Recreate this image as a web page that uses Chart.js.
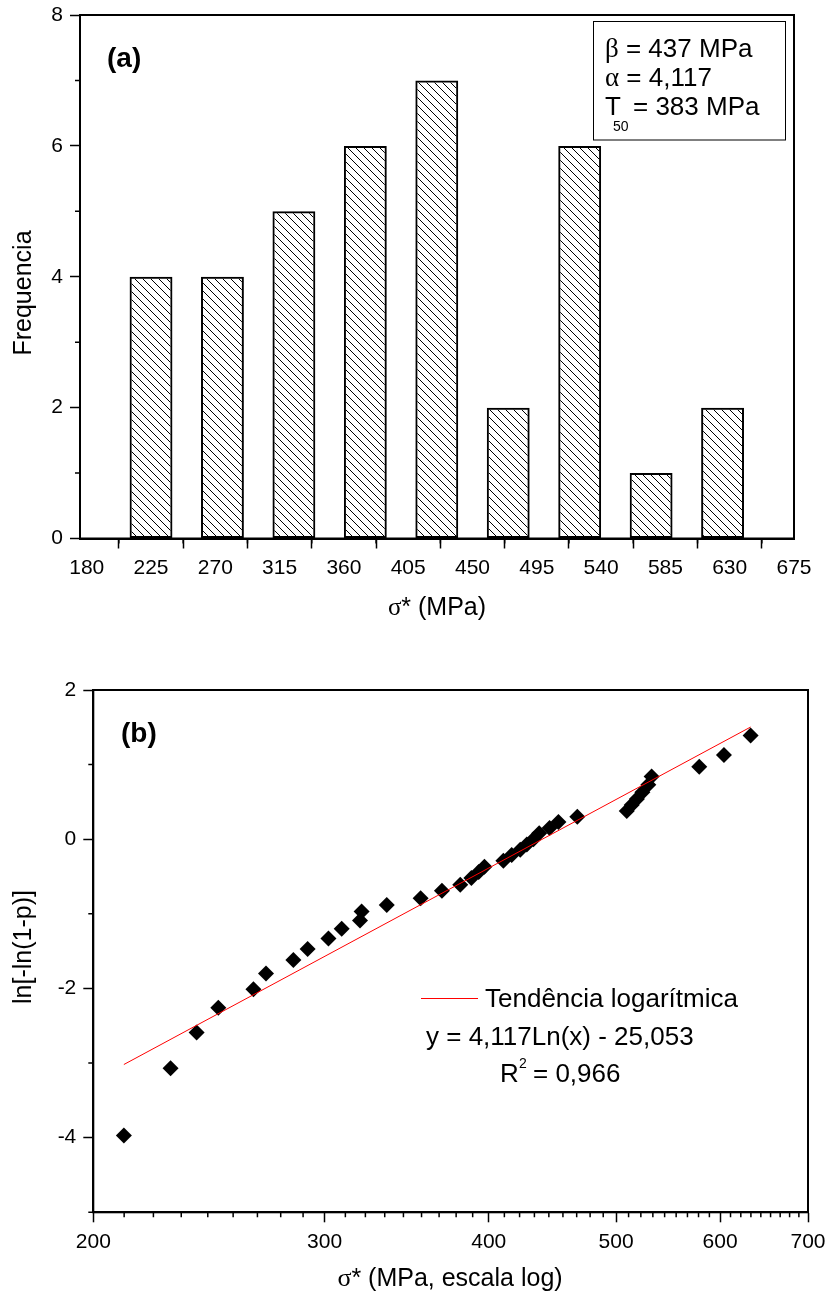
<!DOCTYPE html>
<html>
<head>
<meta charset="utf-8">
<script src="https://cdn.jsdelivr.net/npm/chart.js@4.4.1/dist/chart.umd.min.js"></script>
<style>
  html, body { margin: 0; padding: 0; background: #fff; }
  #wrap { position: relative; width: 828px; height: 1295px; }
  canvas { position: absolute; left: 0; }
  #histChart { top: 0; }
  #weibullChart { top: 640px; }
</style>
</head>
<body>
<div id="wrap">
  <canvas id="histChart" width="828" height="640"></canvas>
  <canvas id="weibullChart" width="828" height="655"></canvas>
</div>
<script>
// (a) histogram of fracture stress
const binCenters = [225, 275, 325, 375, 425, 475, 525, 575, 625];
const binCounts = [4, 4, 5, 6, 7, 2, 6, 1, 2];
const histTicksX = [180, 225, 270, 315, 360, 405, 450, 495, 540, 585, 630, 675];
const histTicksY = [0, 2, 4, 6, 8];

// (b) weibull plot, sigma in MPa vs ln[-ln(1-p)]
const sigma = [211, 229, 239.7, 249, 264.8, 270.7, 284, 291.2, 302, 309.1,
  319.2, 320.1, 334.5, 355, 368.5, 380.5, 388, 393, 397, 410.4,
  416.4, 422.7, 427.6, 432.6, 437, 445, 452, 467.2, 509.5, 513.9,
  518.6, 523.6, 529.1, 532.2, 578.5, 604.1, 633];
const lnLn = [-3.97, -3.07, -2.59, -2.26, -2.01, -1.80, -1.62, -1.47, -1.33, -1.20,
  -1.09, -0.97, -0.88, -0.79, -0.69, -0.61, -0.52, -0.44, -0.37, -0.29,
  -0.21, -0.14, -0.07, 0.00, 0.08, 0.15, 0.23, 0.30, 0.38, 0.46,
  0.54, 0.63, 0.73, 0.84, 0.97, 1.13, 1.39];
const weibullTicksX = [200, 300, 400, 500, 600, 700];
const weibullTicksY = [-4, -2, 0, 2];
const trendSlope = 4.117;
const trendIntercept = -25.053;
const trendRange = [211, 633];

const SANS = '"Liberation Sans", Arial, sans-serif';
const SERIF = '"Liberation Serif", "Times New Roman", serif';

Chart.defaults.font.family = SANS;
Chart.defaults.font.size = 21;
Chart.defaults.color = '#000';
Chart.defaults.animation = false;

// minor ticks halfway between the labelled ones
function midpoints(arr) {
  const out = [];
  for (let i = 0; i < arr.length - 1; i++) out.push((arr[i] + arr[i + 1]) / 2);
  return out;
}
// log axis: 8 minor ticks inside each hundred
function logMinor(arr) {
  const out = [];
  for (let i = 0; i < arr.length - 1; i++) {
    const step = (arr[i + 1] - arr[i]) / 9;
    for (let k = 1; k < 9; k++) out.push(arr[i] + k * step);
  }
  return out;
}

function axisOpts(ticksList, fitSize, horizontal) {
  return {
    grid: { drawOnChartArea: false, drawTicks: true, tickLength: 10, tickWidth: 1.5, tickColor: '#000', color: '#000' },
    border: { display: true, color: '#000', width: 2 },
    ticks: { padding: 7, autoSkip: false, maxRotation: 0, font: { size: 21 }, callback: v => String(v) },
    afterBuildTicks: s => { s.ticks = ticksList.map(v => ({ value: v })); },
    afterFit: s => {
      if (horizontal) s.height = fitSize; else s.width = fitSize;
      // plot area is fixed by layout padding, labels may overhang it
      s.paddingTop = s.paddingBottom = s.paddingLeft = s.paddingRight = 0;
    }
  };
}

// frame around the plot area plus the short minor ticks
function frameMinor(minorX, minorY) {
  return {
    id: 'frameMinor',
    afterDraw(chart) {
      const { ctx, chartArea: a, scales } = chart;
      ctx.save();
      ctx.strokeStyle = '#000';
      ctx.lineWidth = 1.5;
      ctx.beginPath();
      minorX.forEach(v => {
        const px = scales.x.getPixelForValue(v);
        ctx.moveTo(px, a.bottom);
        ctx.lineTo(px, a.bottom + 5);
      });
      minorY.forEach(v => {
        const py = scales.y.getPixelForValue(v);
        ctx.moveTo(a.left, py);
        ctx.lineTo(a.left - 5, py);
      });
      ctx.stroke();
      ctx.lineWidth = 2;
      ctx.strokeRect(a.left, a.top, a.right - a.left, a.bottom - a.top);
      ctx.restore();
    }
  };
}

// draw a line of mixed-font text pieces
function runs(ctx, parts, x, y, align) {
  let total = 0;
  parts.forEach(p => { ctx.font = p.font; p.w = ctx.measureText(p.text).width; total += p.w; });
  let cx = align === 'center' ? x - total / 2 : x;
  parts.forEach(p => {
    ctx.font = p.font;
    ctx.fillText(p.text, cx, y);
    cx += p.w;
  });
}

// hatch tile for the bars
const histCanvas = document.getElementById('histChart');
const tile = document.createElement('canvas');
tile.width = 8; tile.height = 8;
const tg = tile.getContext('2d');
tg.strokeStyle = '#000';
tg.lineWidth = 1;
tg.beginPath();
tg.moveTo(-1, -1); tg.lineTo(9, 9);
tg.moveTo(-1, 7); tg.lineTo(1, 9);
tg.moveTo(7, -1); tg.lineTo(9, 1);
tg.stroke();
const hatch = histCanvas.getContext('2d').createPattern(tile, 'repeat');

const histLabels = {
  id: 'histLabels',
  afterDraw(chart) {
    const ctx = chart.ctx;
    ctx.save();
    ctx.fillStyle = '#000';
    ctx.textBaseline = 'alphabetic';
    ctx.textAlign = 'left';
    ctx.font = 'bold 28px ' + SANS;
    ctx.fillText('(a)', 107, 67);

    ctx.lineWidth = 1;
    ctx.strokeStyle = '#000';
    ctx.strokeRect(593.5, 21.5, 192, 118.5);
    const f = '26px ' + SANS, g = '27px ' + SERIF;
    runs(ctx, [{ text: 'β', font: g }, { text: ' = 437 MPa', font: f }], 605, 57);
    runs(ctx, [{ text: 'α', font: g }, { text: ' = 4,117', font: f }], 605, 86);
    ctx.font = f;
    ctx.fillText('T', 605, 115);
    ctx.font = '14px ' + SANS;
    ctx.fillText('50', 613, 131);
    ctx.font = f;
    ctx.fillText('= 383 MPa', 633, 115);

    runs(ctx, [{ text: 'σ', font: '25px ' + SERIF }, { text: '* (MPa)', font: '25px ' + SANS }], 437, 615, 'center');

    ctx.translate(31, 293);
    ctx.rotate(-Math.PI / 2);
    ctx.textAlign = 'center';
    ctx.font = '25px ' + SANS;
    ctx.fillText('Frequencia', 0, 0);
    ctx.restore();
  }
};

new Chart(histCanvas, {
  type: 'bar',
  data: {
    datasets: [{
      data: binCenters.map((c, i) => ({ x: c, y: binCounts[i] })),
      backgroundColor: hatch,
      borderColor: '#000',
      borderWidth: 2,
      borderSkipped: false,
      categoryPercentage: 1,
      barPercentage: 30 / 45
    }]
  },
  options: {
    responsive: false,
    events: [],
    layout: { padding: { top: 15, right: 34, left: 0, bottom: 0 } },
    plugins: { legend: { display: false }, tooltip: { enabled: false } },
    scales: {
      x: Object.assign(axisOpts(histTicksX, 101.5, true), { type: 'linear', min: 175.3, max: 675, offset: false }),
      y: Object.assign(axisOpts(histTicksY, 80, false), { type: 'linear', min: 0, max: 8 })
    }
  },
  plugins: [frameMinor(midpoints(histTicksX), midpoints(histTicksY)), histLabels]
});

const weibullLabels = {
  id: 'weibullLabels',
  afterDraw(chart) {
    const ctx = chart.ctx;
    ctx.save();
    ctx.fillStyle = '#000';
    ctx.textBaseline = 'alphabetic';
    ctx.textAlign = 'left';
    ctx.font = 'bold 28px ' + SANS;
    ctx.fillText('(b)', 121, 102);

    ctx.strokeStyle = chart.data.datasets[0].borderColor;
    ctx.lineWidth = 1;
    ctx.beginPath();
    ctx.moveTo(421, 358.5);
    ctx.lineTo(478, 358.5);
    ctx.stroke();
    const f = '26px ' + SANS;
    ctx.font = f;
    ctx.fillText('Tendência logarítmica', 485, 366.5);
    ctx.fillText('y = 4,117Ln(x) - 25,053', 426, 405);
    ctx.fillText('R', 500, 441.5);
    ctx.font = '14px ' + SANS;
    ctx.fillText('2', 519, 428);
    ctx.font = f;
    ctx.fillText('= 0,966', 533, 441.5);

    const t = '25px ' + SANS;
    runs(ctx, [{ text: 'σ', font: '26px ' + SERIF }, { text: '* (MPa, escala log)', font: t }], 450, 646, 'center');

    ctx.translate(31, 307);
    ctx.rotate(-Math.PI / 2);
    ctx.textAlign = 'center';
    ctx.font = t;
    ctx.fillText('ln[-ln(1-p)]', 0, 0);
    ctx.restore();
  }
};

new Chart(document.getElementById('weibullChart'), {
  type: 'scatter',
  data: {
    datasets: [{
      data: trendRange.map(x => ({ x: x, y: trendSlope * Math.log(x) + trendIntercept })),
      showLine: true,
      borderColor: '#ff0000',
      borderWidth: 1,
      pointRadius: 0,
      order: 0
    }, {
      data: sigma.map((s, i) => ({ x: s, y: lnLn[i] })),
      pointStyle: 'rectRot',
      pointRadius: 8,
      backgroundColor: '#000',
      borderWidth: 0,
      order: 1
    }]
  },
  options: {
    responsive: false,
    events: [],
    layout: { padding: { top: 50, right: 20, left: 0, bottom: 0 } },
    plugins: { legend: { display: false }, tooltip: { enabled: false } },
    scales: {
      x: Object.assign(axisOpts(weibullTicksX, 82.7, true), { type: 'logarithmic', min: 200, max: 700 }),
      y: Object.assign(axisOpts(weibullTicksY, 93.3, false), { type: 'linear', min: -5, max: 2 })
    }
  },
  plugins: [frameMinor(logMinor(weibullTicksX), [-5, -3, -1, 1]), weibullLabels]
});
</script>
</body>
</html>
